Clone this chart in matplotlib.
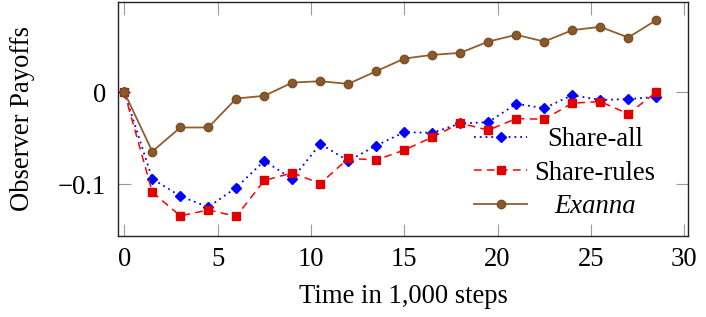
import matplotlib
matplotlib.use("Agg")
import matplotlib.pyplot as plt
import matplotlib.transforms as mtransforms
from matplotlib.font_manager import FontProperties

plt.rcParams['font.family'] = ['Liberation Serif', 'DejaVu Serif']

# ---- data ----
steps = [0, 1.5, 3, 4.5, 6, 7.5, 9, 10.5, 12, 13.5, 15, 16.5, 18, 19.5, 21, 22.5, 24, 25.5, 27, 28.5]
share_all = [0, -0.0942, -0.113, -0.125, -0.1037, -0.0747, -0.0942, -0.0562, -0.0747, -0.058,
             -0.0435, -0.0442, -0.034, -0.0326, -0.0127, -0.0174, -0.0033, -0.0084, -0.0076, -0.0051]
share_rules = [0, -0.1087, -0.1345, -0.128, -0.135, -0.096, -0.0877, -0.0993, -0.0721, -0.0736,
               -0.063, -0.0489, -0.0337, -0.0413, -0.0287, -0.0294, -0.012, -0.0102, -0.0236, 0.0]
exanna = [0, -0.0645, -0.0384, -0.0384, -0.0069, -0.004, 0.0104, 0.0119, 0.009, 0.0228,
          0.0365, 0.0405, 0.0427, 0.055, 0.0623, 0.055, 0.0674, 0.071, 0.0594, 0.0783]
series_labels = ['Share-all', 'Share-rules', 'Exanna']
xticks = [0, 5, 10, 15, 20, 25, 30]
yticks = [0, -0.1]
ytick_labels = ['0', '\u22120.1']

fig = plt.figure(figsize=(7.06, 3.17), dpi=100)
ax = fig.add_axes([0.1676, 0.2565, 0.975 - 0.1676, 0.9937 - 0.2565])

FS = 19.2
ax.plot(steps, share_all, linestyle=(0, (1, 2.2)), color='#0000ff', lw=1.3,
        marker='D', ms=4.6, mfc='#0000ff', mec='#0000ff', label=series_labels[0])
ax.plot(steps, share_rules, linestyle=(0, (5, 3.5)), color='#ff0000', lw=1.1,
        marker='s', ms=5.5, mfc='#e00000', mec='#e00000', label=series_labels[1])
ax.plot(steps, exanna, linestyle='-', color='#8f5e2e', lw=1.3,
        marker='o', ms=6, mfc='#8a5a2b', mec='#7a4e25', label=series_labels[2])

ax.set_xlim(-0.32, 30.22)
ax.set_ylim(-0.156, 0.098)
ax.set_xticks(xticks)
ax.set_xticklabels([str(t) for t in xticks], fontsize=FS)
ax.set_yticks(yticks)
ax.set_yticklabels(ytick_labels, fontsize=FS)
ax.tick_params(direction='in', length=9, width=0.8, color='#999999',
               top=True, right=True, labelsize=FS)
ax.tick_params(axis='x', pad=8.5)
ax.tick_params(axis='y', pad=9)
for s in ax.spines.values():
    s.set_linewidth(1.0)
    s.set_color('#222222')

ax.set_xlabel('Time in 1,000 steps', fontsize=FS, labelpad=8)
ax.set_ylabel('Observer Payoffs', fontsize=FS, labelpad=16)

leg = ax.legend(loc='center', bbox_to_anchor=(0.783, 0.268), frameon=False,
                prop=FontProperties(family='Liberation Serif', size=FS),
                handlelength=2.0, handletextpad=0.27,
                labelspacing=0.32, borderpad=0, borderaxespad=0)
texts = leg.get_texts()
texts[2].set_fontstyle('italic')

fig.canvas.draw()
r = fig.canvas.get_renderer()
ws = [t.get_window_extent(r).width for t in texts]
W = max(ws)
for t, w in zip(texts, ws):
    t.set_transform(t.get_transform() + mtransforms.Affine2D().translate((W - w) / 2, 0))

fig.savefig('out.png', dpi=100)
